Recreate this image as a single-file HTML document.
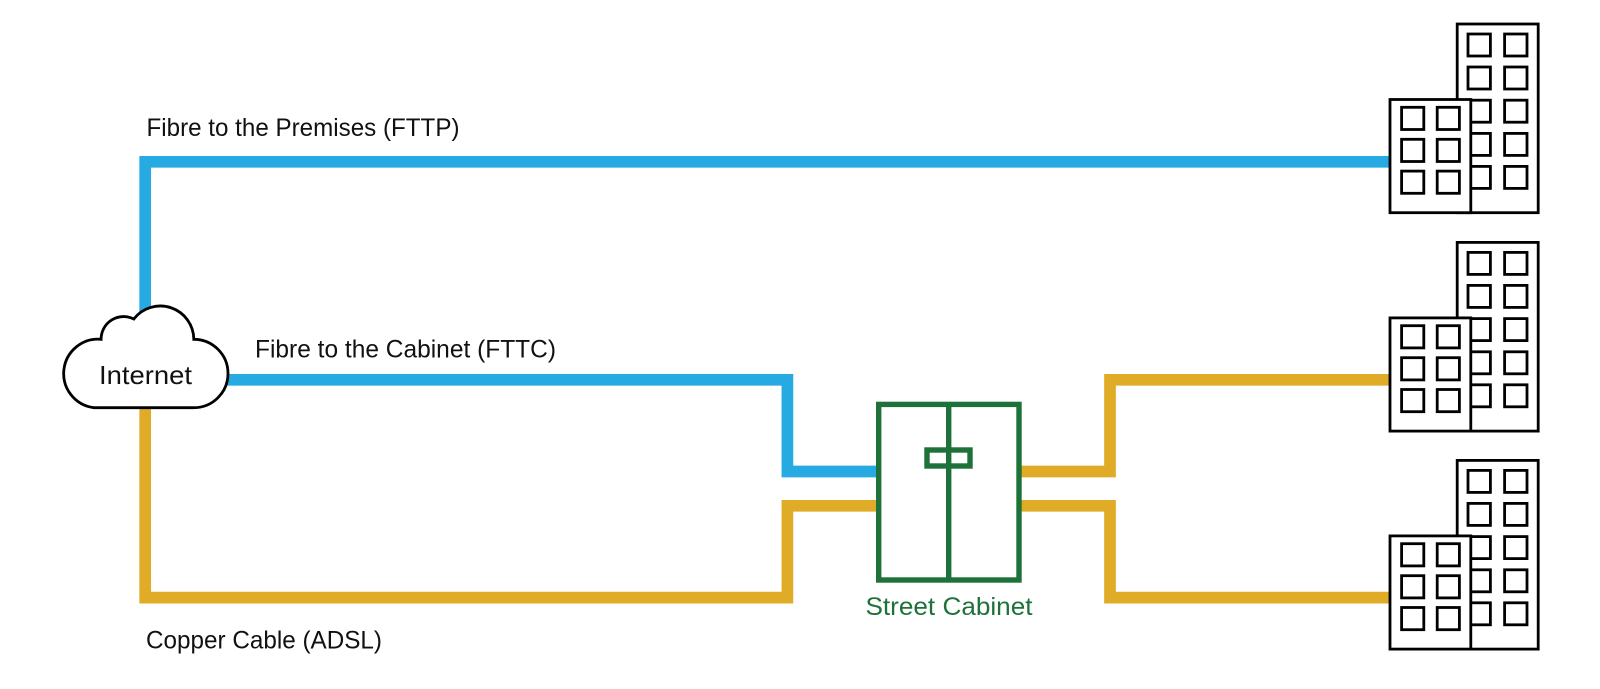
<!DOCTYPE html>
<html lang="en">
<head>
<meta charset="utf-8">
<title>Broadband connection types</title>
<style>
html,body{margin:0;padding:0;background:#fff;width:1600px;height:689px;overflow:hidden}
svg{display:block}
text{font-family:"Liberation Sans",sans-serif;font-size:25px;fill:#111}
.w{fill:none;stroke:#000;stroke-width:2.8}
.b{fill:#fff;stroke:#000;stroke-width:2.8}
</style>
</head>
<body>
<svg xmlns="http://www.w3.org/2000/svg" width="1600" height="689" viewBox="0 0 1600 689">
<g fill="none" stroke-width="11.7" stroke-linejoin="miter">
  <path d="M145.2 330V161.8H1392" stroke="#27AAE1"/>
  <path d="M220 379.8H787.4V471.5H878" stroke="#27AAE1"/>
  <path d="M145.2 400V597.6H787.4V505.8H878" stroke="#E0AC27"/>
  <path d="M1020 471.5H1110V379.8H1392" stroke="#E0AC27"/>
  <path d="M1020 505.8H1110V597.6H1392" stroke="#E0AC27"/>
</g>

<path transform="translate(-1.2 0)" d="M95 407.7H195A34.2 34.2 0 0 0 195 339.3A33.5 33.5 0 0 0 135 319A22.5 22.5 0 0 0 102.3 339.3A34.4 34.4 0 0 0 95 407.7Z" fill="#fff" stroke="#000" stroke-width="2.8"/>

<g fill="none" stroke="#1D7139" stroke-width="5.4">
  <rect x="878.7" y="404.4" width="140.3" height="175.6"/>
  <path d="M948.7 404V580"/>
  <rect x="927" y="450" width="43" height="16"/>
</g>

<g>
  <rect class="b" x="1457.2" y="24" width="81" height="188.7"/>
  <rect class="w" x="1468" y="34" width="22.4" height="22"/>
  <rect class="w" x="1504.6" y="34" width="22.4" height="22"/>
  <rect class="w" x="1468" y="67" width="22.4" height="22"/>
  <rect class="w" x="1504.6" y="67" width="22.4" height="22"/>
  <rect class="w" x="1468" y="100.2" width="22.4" height="22"/>
  <rect class="w" x="1504.6" y="100.2" width="22.4" height="22"/>
  <rect class="w" x="1468" y="133.4" width="22.4" height="22"/>
  <rect class="w" x="1504.6" y="133.4" width="22.4" height="22"/>
  <rect class="w" x="1468" y="166.4" width="22.4" height="22"/>
  <rect class="w" x="1504.6" y="166.4" width="22.4" height="22"/>
  <rect class="b" x="1390" y="99.5" width="80.8" height="113.2"/>
  <rect class="w" x="1401.6" y="107.3" width="22.2" height="22.2"/>
  <rect class="w" x="1437.2" y="107.3" width="22.2" height="22.2"/>
  <rect class="w" x="1401.6" y="139.3" width="22.2" height="22.2"/>
  <rect class="w" x="1437.2" y="139.3" width="22.2" height="22.2"/>
  <rect class="w" x="1401.6" y="171.1" width="22.2" height="22.2"/>
  <rect class="w" x="1437.2" y="171.1" width="22.2" height="22.2"/>
</g>
<g transform="translate(0 218.4)">
  <rect class="b" x="1457.2" y="24" width="81" height="188.7"/>
  <rect class="w" x="1468" y="34" width="22.4" height="22"/>
  <rect class="w" x="1504.6" y="34" width="22.4" height="22"/>
  <rect class="w" x="1468" y="67" width="22.4" height="22"/>
  <rect class="w" x="1504.6" y="67" width="22.4" height="22"/>
  <rect class="w" x="1468" y="100.2" width="22.4" height="22"/>
  <rect class="w" x="1504.6" y="100.2" width="22.4" height="22"/>
  <rect class="w" x="1468" y="133.4" width="22.4" height="22"/>
  <rect class="w" x="1504.6" y="133.4" width="22.4" height="22"/>
  <rect class="w" x="1468" y="166.4" width="22.4" height="22"/>
  <rect class="w" x="1504.6" y="166.4" width="22.4" height="22"/>
  <rect class="b" x="1390" y="99.5" width="80.8" height="113.2"/>
  <rect class="w" x="1401.6" y="107.3" width="22.2" height="22.2"/>
  <rect class="w" x="1437.2" y="107.3" width="22.2" height="22.2"/>
  <rect class="w" x="1401.6" y="139.3" width="22.2" height="22.2"/>
  <rect class="w" x="1437.2" y="139.3" width="22.2" height="22.2"/>
  <rect class="w" x="1401.6" y="171.1" width="22.2" height="22.2"/>
  <rect class="w" x="1437.2" y="171.1" width="22.2" height="22.2"/>
</g>
<g transform="translate(0 436.4)">
  <rect class="b" x="1457.2" y="24" width="81" height="188.7"/>
  <rect class="w" x="1468" y="34" width="22.4" height="22"/>
  <rect class="w" x="1504.6" y="34" width="22.4" height="22"/>
  <rect class="w" x="1468" y="67" width="22.4" height="22"/>
  <rect class="w" x="1504.6" y="67" width="22.4" height="22"/>
  <rect class="w" x="1468" y="100.2" width="22.4" height="22"/>
  <rect class="w" x="1504.6" y="100.2" width="22.4" height="22"/>
  <rect class="w" x="1468" y="133.4" width="22.4" height="22"/>
  <rect class="w" x="1504.6" y="133.4" width="22.4" height="22"/>
  <rect class="w" x="1468" y="166.4" width="22.4" height="22"/>
  <rect class="w" x="1504.6" y="166.4" width="22.4" height="22"/>
  <rect class="b" x="1390" y="99.5" width="80.8" height="113.2"/>
  <rect class="w" x="1401.6" y="107.3" width="22.2" height="22.2"/>
  <rect class="w" x="1437.2" y="107.3" width="22.2" height="22.2"/>
  <rect class="w" x="1401.6" y="139.3" width="22.2" height="22.2"/>
  <rect class="w" x="1437.2" y="139.3" width="22.2" height="22.2"/>
  <rect class="w" x="1401.6" y="171.1" width="22.2" height="22.2"/>
  <rect class="w" x="1437.2" y="171.1" width="22.2" height="22.2"/>
</g>

<text x="146.5" y="136" textLength="313" lengthAdjust="spacingAndGlyphs">Fibre to the Premises (FTTP)</text>
<text x="255" y="357.3" textLength="301" lengthAdjust="spacingAndGlyphs">Fibre to the Cabinet (FTTC)</text>
<text x="146" y="648.3" textLength="236" lengthAdjust="spacingAndGlyphs">Copper Cable (ADSL)</text>
<text x="99" y="384" textLength="93" lengthAdjust="spacingAndGlyphs" style="font-size:26px">Internet</text>
<text x="865.5" y="615" textLength="167" lengthAdjust="spacingAndGlyphs" style="fill:#1D7139">Street Cabinet</text>
</svg>
</body>
</html>
